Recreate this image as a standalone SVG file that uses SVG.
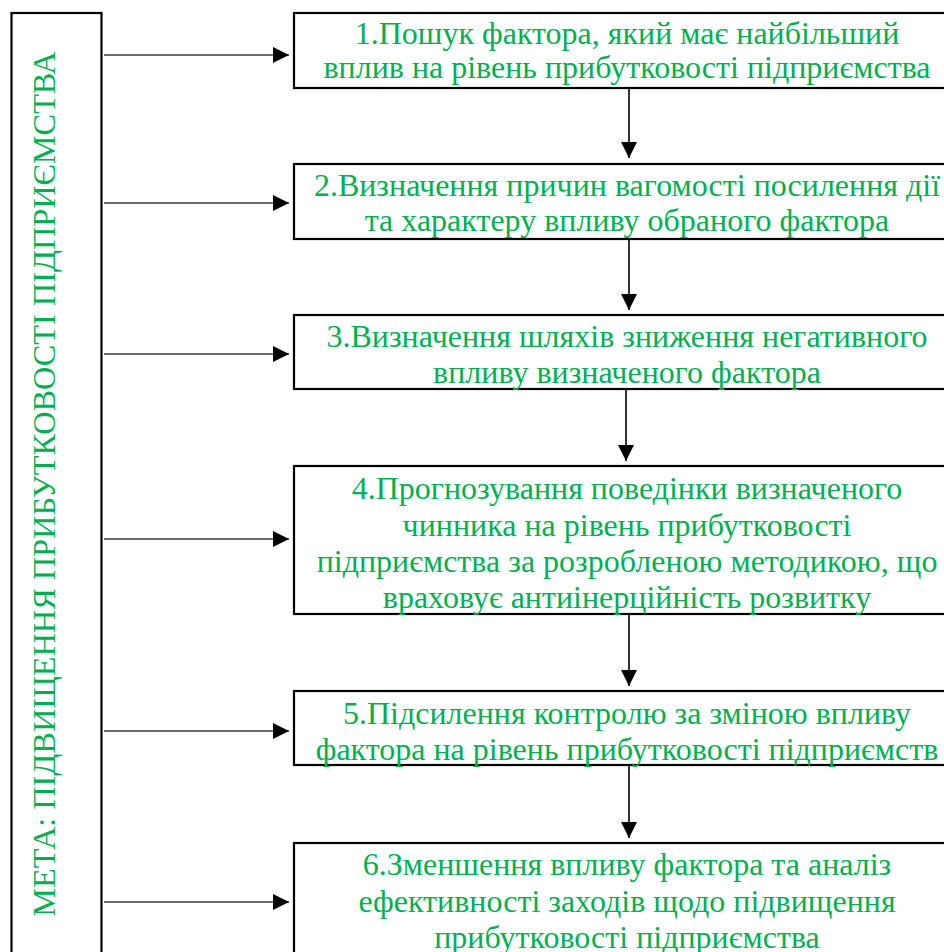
<svg xmlns="http://www.w3.org/2000/svg" width="944" height="952" viewBox="0 0 944 952">
<defs>
<style>
.box{fill:#fff;stroke:#000;stroke-width:2.2}
.t{font-family:"Liberation Serif","Times New Roman",serif;font-size:32px;fill:#00b050;text-anchor:middle}
.v{font-family:"Liberation Serif","Times New Roman",serif;font-size:32.3px;fill:#00b050;text-anchor:middle}
.h{stroke:#3a3a3a;stroke-width:1.6;fill:none}
.d{stroke:#000;stroke-width:1.6;fill:none}
</style>
<marker id="ah" viewBox="0 0 16 16" refX="16" refY="8" markerWidth="16" markerHeight="16" markerUnits="userSpaceOnUse" orient="auto">
<path d="M0,0 L16,8 L0,16 Z" fill="#000"/>
</marker>
</defs>
<rect width="944" height="952" fill="#fff"/>
<g id="goal">
<rect class="box" x="11.5" y="13" width="90" height="960"/>
<text class="v" transform="translate(55,484) rotate(-90)">МЕТА: ПІДВИЩЕННЯ ПРИБУТКОВОСТІ ПІДПРИЄМСТВА</text>
</g>
<g id="step1">
<rect class="box" x="294" y="13" width="680" height="75"/>
<text class="t" x="627" y="44">1.Пошук фактора, який має найбільший</text>
<text class="t" x="627" y="78">вплив на рівень прибутковості підприємства</text>
</g>
<g id="step2">
<rect class="box" x="294" y="164" width="680" height="75"/>
<text class="t" x="627" y="196">2.Визначення причин вагомості посилення дії</text>
<text class="t" x="627" y="231">та характеру впливу обраного фактора</text>
</g>
<g id="step3">
<rect class="box" x="294" y="315" width="680" height="74"/>
<text class="t" x="627" y="347">3.Визначення шляхів зниження негативного</text>
<text class="t" x="627" y="383">впливу визначеного фактора</text>
</g>
<g id="step4">
<rect class="box" x="294" y="466" width="680" height="148"/>
<text class="t" x="627" y="499">4.Прогнозування поведінки визначеного</text>
<text class="t" x="627" y="536">чинника на рівень прибутковості</text>
<text class="t" x="627" y="572">підприємства за розробленою методикою, що</text>
<text class="t" x="627" y="608">враховує антиінерційність розвитку</text>
</g>
<g id="step5">
<rect class="box" x="294" y="691" width="680" height="74"/>
<text class="t" x="627" y="724">5.Підсилення контролю за зміною впливу</text>
<text class="t" x="627" y="760">фактора на рівень прибутковості підприємств</text>
</g>
<g id="step6">
<rect class="box" x="294" y="843" width="680" height="140"/>
<text class="t" x="627" y="875">6.Зменшення впливу фактора та аналіз</text>
<text class="t" x="627" y="912">ефективності заходів щодо підвищення</text>
<text class="t" x="627" y="948">прибутковості підприємства</text>
</g>
<g id="connectors">
<line class="h" x1="104" y1="55" x2="289" y2="55" marker-end="url(#ah)"/>
<line class="h" x1="104" y1="203" x2="289" y2="203" marker-end="url(#ah)"/>
<line class="h" x1="104" y1="354" x2="289" y2="354" marker-end="url(#ah)"/>
<line class="h" x1="104" y1="539" x2="289" y2="539" marker-end="url(#ah)"/>
<line class="h" x1="104" y1="731" x2="289" y2="731" marker-end="url(#ah)"/>
<line class="h" x1="104" y1="902" x2="289" y2="902" marker-end="url(#ah)"/>
<line class="d" x1="629" y1="89" x2="629" y2="158" marker-end="url(#ah)"/>
<line class="d" x1="629" y1="240" x2="629" y2="310" marker-end="url(#ah)"/>
<line class="d" x1="626" y1="390" x2="626" y2="461" marker-end="url(#ah)"/>
<line class="d" x1="629" y1="615" x2="629" y2="686" marker-end="url(#ah)"/>
<line class="d" x1="629" y1="766" x2="629" y2="838" marker-end="url(#ah)"/>
</g>
</svg>
